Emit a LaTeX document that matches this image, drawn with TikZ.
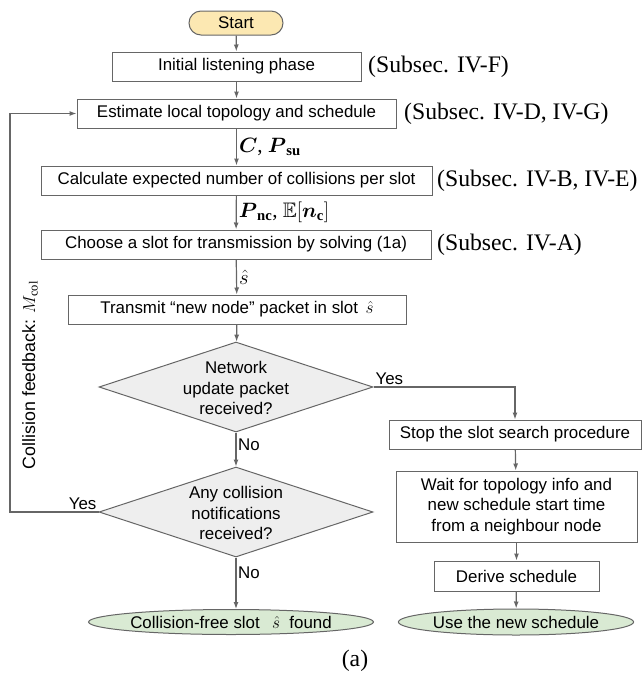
\documentclass[tikz,border=0pt]{standalone}
\usepackage{amsmath,amssymb}
\usepackage{fontspec}
\setmainfont{Liberation Serif}
\setsansfont{Liberation Sans}
\usetikzlibrary{arrows.meta,shapes.geometric}
\definecolor{linegray}{HTML}{666666}
\definecolor{startfill}{HTML}{FCE8B2}
\definecolor{endfill}{HTML}{D9EAD3}
\definecolor{askfill}{HTML}{EEEEEE}
\begin{document}
\begin{tikzpicture}[x=1pt,y=-1pt,
	box/.style={draw=linegray, line width=1pt, inner sep=0pt, minimum height=29pt,
		align=center, font=\sffamily\fontsize{16.9}{20.5}\selectfont},
	term/.style={box, minimum height=24pt},
	ask/.style={diamond, draw=linegray, line width=1pt, fill=askfill, inner sep=0pt,
		minimum width=274pt, minimum height=90pt},
	asktext/.style={align=center, inner sep=0pt, font=\sffamily\fontsize{16.9}{20.8}\selectfont},
	arr/.style={draw=linegray, line width=1.2pt, -{Latex[length=7pt,width=5pt]}},
	lbl/.style={anchor=west, inner sep=2pt, font=\fontsize{21}{24}\selectfont},
	yn/.style={inner sep=1.5pt, font=\sffamily\fontsize{16.9}{20}\selectfont},
	sub/.style={anchor=west, inner sep=0pt, font=\rmfamily\fontsize{23.7}{26}\selectfont}]
				\useasboundingbox (0,0) rectangle (642,681);
				% main column
				\node [term, fill=startfill, rounded corners=12pt, minimum width=94pt] (start) at (236,23) {Start};
				\node [box, minimum width=249pt] (init) at (236.5,66.5) {Initial listening phase};
				\node [box, minimum width=319pt] (est) at (236.5,113.5) {Estimate local topology and schedule};
				\node [box, minimum width=391pt] (calc) at (236.5,180.5) {Calculate expected number of collisions per slot};
				\node [box, minimum width=390pt] (choose) at (236,244.5) {Choose a slot for transmission by solving (1a)};
				\node [box, minimum width=338pt] (trans) at (237,309.5) {Transmit “new node” packet in slot\, $\hat{s}$};
				\node [ask] (net) at (236,387) {};
				\node [asktext] (nettext) at (236,388) {Network\\update packet\\received?};
				\node [ask] (coll) at (236,512) {};
				\node [asktext] (colltext) at (236,513) {Any collision\\notifications\\received?};
				\node [term, ellipse, fill=endfill, minimum width=252pt, minimum height=25pt] (cfree) at (231,622) {Collision-free slot~\, $\hat{s}$ ~found};
				% right column
				\node [box, minimum width=252pt] (stop) at (515,434.5) {Stop the slot search procedure};
				\node [box, minimum width=241pt, minimum height=71pt] (wait) at (516.5,506.5) {Wait for topology info and\\new schedule start time\\from a neighbour node};
				\node [box, minimum width=165pt, minimum height=30pt] (derive) at (516.5,576) {Derive schedule};
				\node [term, ellipse, fill=endfill, minimum width=222pt, minimum height=26pt] (usenew) at (516,622) {Use the new schedule};
				% references to the text
				\node [sub] (subF) at (368,67) {(Subsec. IV-F)};
				\node [sub] (subDG) at (404,114) {(Subsec. IV-D, IV-G)};
				\node [sub] (subBE) at (437,181) {(Subsec. IV-B, IV-E)};
				\node [sub] (subA) at (437,245) {(Subsec. IV-A)};
				\node [sub, anchor=center] (cap) at (355,661) {(a)};
				\coordinate (fb) at (10,113.5);
				\node [yn, rotate=90, font=\sffamily\fontsize{17.8}{20}\selectfont] (fbtext) at (30,375) {Collision feedback: $M_{\mathrm{col}}$};
				% arrows
				\draw [arr] (start) -- (init);
				\draw [arr] (init) -- (est);
				\draw [arr] (est) -- node [lbl] {$\boldsymbol{C}$, $\boldsymbol{P}_{\mathbf{su}}$} (calc);
				\draw [arr] (calc) -- node [lbl] {$\boldsymbol{P}_{\mathbf{nc}}$, $\mathbb{E}[\boldsymbol{n}_{\mathbf{c}}]$} (choose);
				\draw [arr] (choose) -- node [lbl] {$\hat{s}$} (trans);
				\draw [arr] (trans) -- (net);
				\draw [arr] (net) -- node [yn, pos=0.35, anchor=west] {No} (coll);
				\draw [arr] (net.east) -| node [yn, pos=0, anchor=south west] {Yes} (stop);
				\draw [arr] (coll) -- node [yn, pos=0.3, anchor=west] {No} (coll |- cfree.north);
				\draw [arr] (coll.west) -| node [yn, pos=0, anchor=south east] {Yes} (fb) -- (est);
				\draw [arr] (stop) -- (wait);
				\draw [arr] (wait) -- (derive);
				\draw [arr] (derive) -- (usenew);
			\end{tikzpicture}
\end{document}
